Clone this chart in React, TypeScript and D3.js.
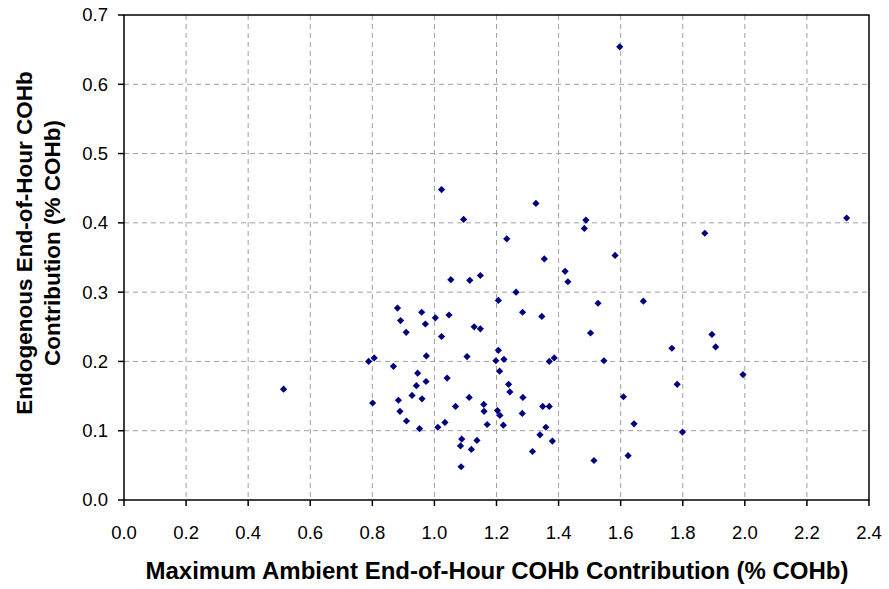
import React from "react";
import * as d3 from "d3";

const xValues = [
  0.514, 0.788, 0.806, 0.801, 0.881, 0.891, 0.909, 0.868, 0.884, 0.889, 0.91, 0.959, 0.971, 0.974, 0.946, 0.942,
  0.928, 0.973, 0.96, 0.952, 1.003, 1.047, 1.023, 1.206, 1.128, 1.148, 1.105, 1.041, 1.011, 1.034, 1.068, 1.112,
  1.088, 1.084, 1.137, 1.119, 1.086, 1.206, 1.198, 1.224, 1.21, 1.159, 1.16, 1.17, 1.203, 1.211, 1.222, 1.023,
  1.094, 1.233, 1.053, 1.114, 1.148, 1.327, 1.488, 1.483, 1.354, 1.582, 1.871, 1.421, 1.43, 1.263, 1.284, 1.346,
  1.527, 1.673, 1.503, 1.894, 1.906, 1.765, 1.37, 1.386, 1.546, 1.782, 1.239, 1.243, 1.285, 1.283, 1.349, 1.37,
  1.359, 1.34, 1.38, 1.316, 1.514, 1.609, 1.643, 1.799, 1.624, 2.328, 1.994, 1.597,
];
const yValues = [
  0.16, 0.2, 0.205, 0.14, 0.277, 0.259, 0.242, 0.193, 0.144, 0.128, 0.114, 0.271, 0.254, 0.208, 0.183, 0.165,
  0.151, 0.171, 0.146, 0.103, 0.263, 0.267, 0.236, 0.288, 0.25, 0.247, 0.207, 0.176, 0.105, 0.112, 0.135, 0.148,
  0.088, 0.078, 0.086, 0.073, 0.048, 0.216, 0.201, 0.203, 0.186, 0.138, 0.128, 0.109, 0.129, 0.122, 0.108, 0.448,
  0.405, 0.377, 0.318, 0.317, 0.324, 0.428, 0.404, 0.392, 0.348, 0.353, 0.385, 0.33, 0.315, 0.3, 0.271, 0.265,
  0.284, 0.287, 0.241, 0.239, 0.221, 0.219, 0.2, 0.205, 0.201, 0.167, 0.167, 0.156, 0.148, 0.125, 0.135, 0.135,
  0.105, 0.094, 0.085, 0.07, 0.057, 0.149, 0.11, 0.098, 0.064, 0.407, 0.181, 0.654,
];
const xTicks = [0, 0.2, 0.4, 0.6, 0.8, 1.0, 1.2, 1.4, 1.6, 1.8, 2.0, 2.2, 2.4];
const yTicks = [0, 0.1, 0.2, 0.3, 0.4, 0.5, 0.6, 0.7];
const xTitle = "Maximum Ambient End-of-Hour COHb Contribution (% COHb)";
const yTitleLines = ["Endogenous End-of-Hour COHb", "Contribution (% COHb)"];

const W = 889;
const H = 589;
const L = 124;
const R = 869;
const T = 15;
const B = 500;

export default function App() {
  const x = d3.scaleLinear().domain([0, 2.4]).range([L, R]);
  const y = d3.scaleLinear().domain([0, 0.7]).range([B, T]);
  const pts = xValues.map((v, i) => ({ x: v, y: yValues[i] }));
  const s = 3.6;
  const font = "'Liberation Sans', Arial, sans-serif";
  return (
    <svg width={W} height={H} style={{ position: "absolute", left: 0, top: 0, background: "#fff" }} fontFamily={font}>
      <rect x={0} y={0} width={W} height={H} fill="#fff" />
      {xTicks.slice(1, -1).map((t) => (
        <line key={"gx" + t} x1={x(t)} x2={x(t)} y1={T} y2={B} stroke="#a0a0a0" strokeWidth={1} strokeDasharray="5,4" />
      ))}
      {yTicks.slice(1, -1).map((t) => (
        <line key={"gy" + t} x1={L} x2={R} y1={y(t)} y2={y(t)} stroke="#a0a0a0" strokeWidth={1} strokeDasharray="5,4" />
      ))}
      <rect x={L} y={T} width={R - L} height={B - T} fill="none" stroke="#000" strokeWidth={1.5} />
      {xTicks.map((t) => (
        <g key={"tx" + t}>
          <line x1={x(t)} x2={x(t)} y1={B} y2={B + 6} stroke="#000" strokeWidth={1.5} />
          <text x={x(t)} y={539} textAnchor="middle" fontSize={18.5} fill="#000">
            {t.toFixed(1)}
          </text>
        </g>
      ))}
      {yTicks.map((t) => (
        <g key={"ty" + t}>
          <line x1={L - 6} x2={L} y1={y(t)} y2={y(t)} stroke="#000" strokeWidth={1.5} />
          <text x={108} y={y(t)} dy="0.35em" textAnchor="end" fontSize={18.5} fill="#000">
            {t.toFixed(1)}
          </text>
        </g>
      ))}
      {pts.map((p, i) => {
        const cx = x(p.x);
        const cy = y(p.y);
        return (
          <path
            key={i}
            d={`M${cx},${cy - s}L${cx + s},${cy}L${cx},${cy + s}L${cx - s},${cy}Z`}
            fill="#000080"
          />
        );
      })}
      <text x={497} y={579} textAnchor="middle" fontSize={24} fontWeight="bold" fill="#000">
        {xTitle}
      </text>
      {yTitleLines.map((ln, i) => (
        <text
          key={ln}
          transform={`translate(${32 + i * 28},243) rotate(-90)`}
          textAnchor="middle"
          fontSize={22.5}
          fontWeight="bold"
          fill="#000"
        >
          {ln}
        </text>
      ))}
    </svg>
  );
}
